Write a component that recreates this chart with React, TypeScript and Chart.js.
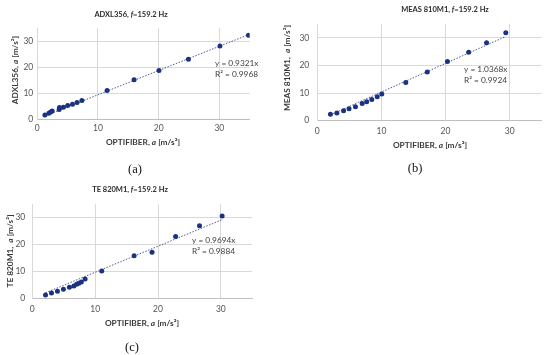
import React, { useEffect, useRef } from 'react';
import { Chart, registerables } from 'chart.js';

Chart.register(...registerables);

const FONT = "Lato, 'Liberation Sans', sans-serif";
const SERIF = "'Liberation Serif', 'DejaVu Serif', serif";

// Panel (a) ADXL356
const adxlX = [1.25, 1.9, 2.2, 2.45, 3.6, 3.65, 4.3, 5.0, 5.8, 6.55, 7.35, 11.5, 15.95, 20.05, 24.9, 30.1, 34.8];
const adxlY = [1.55, 2.2, 2.7, 3.1, 3.7, 4.4, 4.55, 5.15, 5.7, 6.3, 7.1, 10.95, 15.05, 18.7, 23.0, 28.1, 32.2];
const adxlSlope = 0.9321;
const adxlR2 = '0.9968';

// Panel (b) MEAS 810M1
const measX = [2.05, 3.05, 4.1, 4.95, 5.95, 7.0, 7.7, 8.5, 9.35, 10.05, 13.8, 17.15, 20.3, 23.6, 26.4, 29.4];
const measY = [2.3, 2.75, 3.6, 4.35, 5.05, 6.25, 6.9, 7.7, 8.65, 9.65, 13.85, 17.6, 21.45, 24.8, 28.2, 31.8];
const measSlope = 1.0368;
const measR2 = '0.9924';

// Panel (c) TE 820M1
const teX = [2.1, 3.05, 4.0, 4.95, 5.9, 6.6, 7.05, 7.4, 7.8, 8.4, 11.05, 16.2, 19.05, 22.8, 26.6, 30.2];
const teY = [1.25, 2.0, 2.6, 3.35, 4.1, 4.6, 5.2, 5.6, 6.1, 7.2, 10.15, 15.85, 17.1, 23.05, 27.0, 30.6];
const teSlope = 0.9694;
const teR2 = '0.9884';

const axisMin = 0;
const axisMax = 35;
const axisStep = 10;

type Run = { t: string; bold?: boolean; italic?: boolean };
type TextItem = {
  runs: Run[];
  x: number;
  y: number;
  size: number;
  color: string;
  align?: 'left' | 'center' | 'right';
  rotate?: number;
  family?: string;
};

function drawRuns(ctx: CanvasRenderingContext2D, item: TextItem) {
  const { runs, x, y, size, color, align = 'center', rotate = 0, family = FONT } = item;
  ctx.save();
  ctx.translate(x, y);
  if (rotate) ctx.rotate(rotate);
  ctx.fillStyle = color;
  ctx.textBaseline = 'middle';
  ctx.textAlign = 'left';
  const fonts = runs.map((r) => `${r.italic ? 'italic ' : ''}${r.bold ? 'bold ' : ''}${size}px ${family}`);
  let total = 0;
  const widths = runs.map((r, i) => {
    ctx.font = fonts[i];
    const w = ctx.measureText(r.t).width;
    total += w;
    return w;
  });
  let cx = align === 'center' ? -total / 2 : align === 'right' ? -total : 0;
  runs.forEach((r, i) => {
    ctx.font = fonts[i];
    ctx.fillText(r.t, cx, 0);
    cx += widths[i];
  });
  ctx.restore();
}

type PanelCfg = {
  xs: number[];
  ys: number[];
  slope: number;
  r2: string;
  box: { left: number; top: number; w: number; h: number };
  area: { l: number; r: number; t: number; b: number };
  yTickPad: number;
  xTickPad: number;
  titleRuns: Run[];
  titlePos: [number, number];
  yTitleRuns: Run[];
  yTitlePos: [number, number];
  xTitlePos: [number, number];
  eqPos: [number, number, number];
  label: string;
  labelPos: [number, number];
};

const xTitleRuns: Run[] = [
  { t: 'OPTIFIBER, ', bold: true },
  { t: 'a', bold: true, italic: true },
  { t: ' [m/s²]', bold: true },
];

const titleFor = (name: string): Run[] => [
  { t: name + ', ', bold: true },
  { t: 'f', bold: true, italic: true },
  { t: '=159.2 Hz', bold: true },
];

const yTitleFor = (name: string): Run[] => [
  { t: name, bold: true },
  { t: 'a', bold: true, italic: true },
  { t: ' [m/s²]', bold: true },
];

const panels: PanelCfg[] = [
  {
    xs: adxlX, ys: adxlY, slope: adxlSlope, r2: adxlR2,
    box: { left: 0, top: 0, w: 275, h: 180 },
    area: { l: 37.3, r: 249.7, t: 28, b: 119 },
    yTickPad: 4, xTickPad: 4,
    titleRuns: titleFor('ADXL356'), titlePos: [131, 15],
    yTitleRuns: yTitleFor('ADXL356, '), yTitlePos: [15, 70],
    xTitlePos: [143, 142],
    eqPos: [215, 63, 74],
    label: '(a)', labelPos: [135, 170],
  },
  {
    xs: measX, ys: measY, slope: measSlope, r2: measR2,
    box: { left: 275, top: 0, w: 275, h: 180 },
    area: { l: 42.3, r: 266.7, t: 24, b: 120.7 },
    yTickPad: 8, xTickPad: 5,
    titleRuns: titleFor('MEAS 810M1'), titlePos: [170, 10],
    yTitleRuns: yTitleFor('MEAS 810M1,  '), yTitlePos: [12, 68],
    xTitlePos: [155, 145],
    eqPos: [189, 69, 80],
    label: '(b)', labelPos: [140, 169],
  },
  {
    xs: teX, ys: teY, slope: teSlope, r2: teR2,
    box: { left: 0, top: 180, w: 275, h: 175 },
    area: { l: 32.3, r: 252.3, t: 24.3, b: 118.3 },
    yTickPad: 7, xTickPad: 6,
    titleRuns: titleFor('TE 820M1'), titlePos: [130, 10],
    yTitleRuns: yTitleFor('TE 820M1,  '), yTitlePos: [10, 71],
    xTitlePos: [142, 143.3],
    eqPos: [192, 60, 71],
    label: '(c)', labelPos: [132, 168],
  },
];

function Panel({ cfg }: { cfg: PanelCfg }) {
  const ref = useRef<HTMLCanvasElement | null>(null);
  useEffect(() => {
    if (!ref.current) return;
    const { xs, ys, slope, r2, box, area } = cfg;
    const points = xs.map((x, i) => ({ x, y: ys[i] }));
    const xmin = Math.min(...xs);
    const xmax = Math.max(...xs);
    const trend = [
      { x: xmin, y: slope * xmin },
      { x: xmax, y: slope * xmax },
    ];
    const texts: TextItem[] = [
      { runs: cfg.titleRuns, x: cfg.titlePos[0], y: cfg.titlePos[1], size: 7.5, color: '#2b2b2b' },
      { runs: cfg.yTitleRuns, x: cfg.yTitlePos[0], y: cfg.yTitlePos[1], size: 8.3, color: '#3a3a3a', rotate: -Math.PI / 2 },
      { runs: xTitleRuns, x: cfg.xTitlePos[0], y: cfg.xTitlePos[1], size: 8.3, color: '#3a3a3a' },
      { runs: [{ t: `y = ${slope.toFixed(4)}x` }], x: cfg.eqPos[0], y: cfg.eqPos[1], size: 8.3, color: '#404040', align: 'left' },
      { runs: [{ t: `R² = ${r2}` }], x: cfg.eqPos[0], y: cfg.eqPos[2], size: 8.3, color: '#404040', align: 'left' },
      { runs: [{ t: cfg.label }], x: cfg.labelPos[0], y: cfg.labelPos[1], size: 12.5, color: '#111111', family: SERIF },
    ];
    const textPlugin = {
      id: 'panelText',
      afterDraw(chart: any) {
        const ctx = chart.ctx as CanvasRenderingContext2D;
        texts.forEach((t) => drawRuns(ctx, t));
      },
    };
    const tickFont = { size: 8.5, family: FONT };
    const chart = new Chart(ref.current, {
      type: 'scatter',
      data: {
        datasets: [
          {
            data: trend,
            showLine: true,
            borderColor: 'rgba(45,65,125,0.85)',
            borderWidth: 1,
            borderDash: [1.5, 1.5],
            pointRadius: 0,
            fill: false,
            order: 2,
          } as any,
          {
            data: points,
            backgroundColor: '#1B3282',
            borderColor: '#1B3282',
            borderWidth: 0,
            pointRadius: 2.5,
            order: 1,
          },
        ],
      },
      options: {
        responsive: false,
        animation: false,
        devicePixelRatio: 1,
        layout: { padding: { left: 0, top: area.t, right: box.w - area.r, bottom: 0 } },
        plugins: { legend: { display: false }, tooltip: { enabled: false }, title: { display: false } },
        scales: {
          x: {
            type: 'linear',
            min: axisMin,
            max: axisMax,
            ticks: { stepSize: axisStep, includeBounds: false, padding: cfg.xTickPad, color: '#555555', font: tickFont, maxRotation: 0 },
            grid: { color: '#d9d9d9', drawTicks: false, lineWidth: 1 },
            border: { color: '#bfbfbf', width: 1 },
            afterFit: (s: any) => { s.height = box.h - area.b; },
          },
          y: {
            type: 'linear',
            min: axisMin,
            max: axisMax,
            ticks: { stepSize: axisStep, includeBounds: false, padding: cfg.yTickPad, color: '#555555', font: tickFont },
            grid: { color: '#d9d9d9', drawTicks: false, lineWidth: 1 },
            border: { color: '#d9d9d9', width: 1 },
            afterFit: (s: any) => { s.width = area.l; },
          },
        },
      } as any,
      plugins: [textPlugin],
    });
    return () => chart.destroy();
  }, [cfg]);
  return (
    <canvas
      ref={ref}
      width={cfg.box.w}
      height={cfg.box.h}
      style={{ position: 'absolute', left: cfg.box.left, top: cfg.box.top, width: cfg.box.w, height: cfg.box.h }}
    />
  );
}

export default function App() {
  useEffect(() => {
    document.body.style.margin = '0';
  }, []);
  return (
    <div style={{ position: 'relative', width: 550, height: 355, background: '#ffffff', overflow: 'hidden' }}>
      {panels.map((p, i) => (
        <Panel key={i} cfg={p} />
      ))}
    </div>
  );
}
